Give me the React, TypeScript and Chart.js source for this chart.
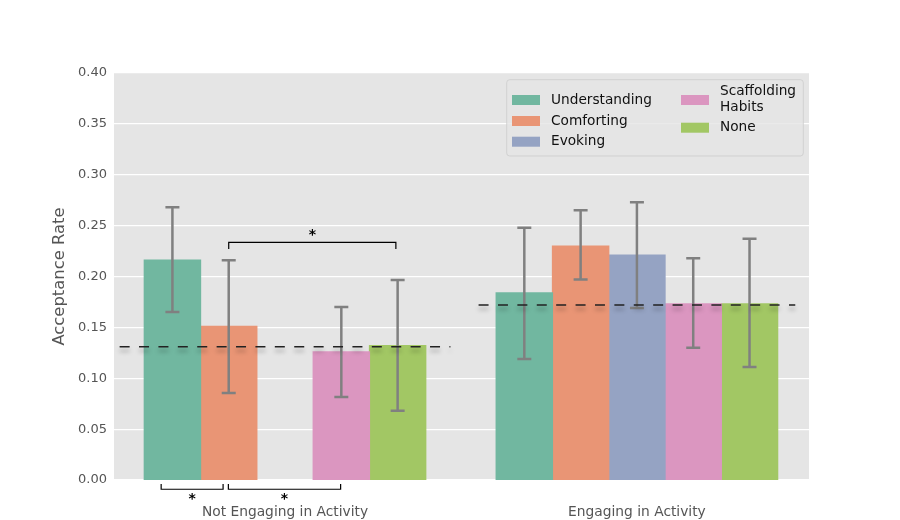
import { useEffect, useRef } from "react";
import { Chart, registerables } from "chart.js";

Chart.register(...registerables);

// groups on the x axis (positions 0 and 1)
const groups = ["Not Engaging in Activity", "Engaging in Activity"];
const groupPos = [0, 1];
const seriesNames = ["Understanding", "Comforting", "Evoking", "Scaffolding Habits", "None"];
const seriesColors = ["#71b7a0", "#e99575", "#95a3c3", "#db96c0", "#a2c764"];

// acceptance rate per group
const understanding = [0.216, 0.184];
const comforting = [0.151, 0.23];
const evoking = [null, 0.221];
const scaffolding = [0.126, 0.173];
const none = [0.132, 0.173];

// error bars [low, high] per group
const understandingErr = [[0.165, 0.268], [0.119, 0.248]];
const comfortingErr = [[0.0855, 0.216], [0.197, 0.265]];
const evokingErr = [null, [0.169, 0.273]];
const scaffoldingErr = [[0.0816, 0.17], [0.13, 0.218]];
const noneErr = [[0.068, 0.1966], [0.111, 0.237]];

// dashed mean line per group
const groupMeans = [0.131, 0.172];

const yTicks = [0, 0.05, 0.1, 0.15, 0.2, 0.25, 0.3, 0.35, 0.4];

// significance brackets: x in axis units, y in rate units
const sigBrackets = [
  { x1: -0.16, x2: 0.315, y: 0.2336, tip: 0.227, star: 0.2424 },
  { x1: -0.352, x2: -0.176, y: -0.0091, tip: -0.0039, star: -0.0175 },
  { x1: -0.161, x2: 0.158, y: -0.0091, tip: -0.0039, star: -0.0175 },
];

const seriesValues = [understanding, comforting, evoking, scaffolding, none];
const seriesErrs = [understandingErr, comfortingErr, evokingErr, scaffoldingErr, noneErr];

const FONT = "'DejaVu Sans', sans-serif";
const TEXT = "#555555";

const backgroundPlugin = {
  id: "plotBackground",
  beforeDraw(chart: any) {
    const { ctx, chartArea: a } = chart;
    ctx.save();
    ctx.fillStyle = "#e5e5e5";
    ctx.fillRect(a.left, a.top, a.right - a.left, a.bottom - a.top);
    ctx.restore();
  },
};

const overlayPlugin = {
  id: "overlay",
  afterDatasetsDraw(chart: any) {
    const { ctx } = chart;
    const xs = chart.scales.x;
    const ys = chart.scales.y;

    // error bars
    ctx.save();
    ctx.strokeStyle = "#808080";
    ctx.lineWidth = 2.5;
    seriesErrs.forEach((errs, di) => {
      const meta = chart.getDatasetMeta(di);
      errs.forEach((e, i) => {
        if (!e) return;
        const x = meta.data[i].x;
        const y0 = ys.getPixelForValue(e[0]);
        const y1 = ys.getPixelForValue(e[1]);
        ctx.beginPath();
        ctx.moveTo(x, y0);
        ctx.lineTo(x, y1);
        ctx.moveTo(x - 7, y0);
        ctx.lineTo(x + 7, y0);
        ctx.moveTo(x - 7, y1);
        ctx.lineTo(x + 7, y1);
        ctx.stroke();
      });
    });
    ctx.restore();

    // dashed group means
    const spans = [0.47, 0.45];
    ctx.save();
    ctx.strokeStyle = "#222222";
    ctx.lineWidth = 1.6;
    ctx.setLineDash([10, 9.4]);
    ctx.shadowColor = "rgba(0,0,0,0.35)";
    ctx.shadowBlur = 4;
    ctx.shadowOffsetY = 4;
    groupMeans.forEach((m, i) => {
      const y = ys.getPixelForValue(m);
      ctx.beginPath();
      ctx.moveTo(xs.getPixelForValue(groupPos[i] - spans[i]), y);
      ctx.lineTo(xs.getPixelForValue(groupPos[i] + spans[i]), y);
      ctx.stroke();
    });
    ctx.restore();
  },
  afterDraw(chart: any) {
    const { ctx, chartArea: a } = chart;
    const xs = chart.scales.x;
    const ys = chart.scales.y;

    // significance brackets
    ctx.save();
    ctx.strokeStyle = "#000000";
    ctx.lineWidth = 1.2;
    ctx.fillStyle = "#000000";
    ctx.font = `bold 14px ${FONT}`;
    ctx.textAlign = "center";
    ctx.textBaseline = "alphabetic";
    sigBrackets.forEach((b) => {
      const x1 = xs.getPixelForValue(b.x1);
      const x2 = xs.getPixelForValue(b.x2);
      const y = ys.getPixelForValue(b.y);
      const t = ys.getPixelForValue(b.tip);
      ctx.beginPath();
      ctx.moveTo(x1, t);
      ctx.lineTo(x1, y);
      ctx.lineTo(x2, y);
      ctx.lineTo(x2, t);
      ctx.stroke();
      ctx.fillText("*", (x1 + x2) / 2, ys.getPixelForValue(b.star) + 5.5);
    });
    ctx.restore();

    // y axis title
    ctx.save();
    ctx.translate(60, (a.top + a.bottom) / 2);
    ctx.rotate(-Math.PI / 2);
    ctx.fillStyle = TEXT;
    ctx.font = `16.4px ${FONT}`;
    ctx.textAlign = "center";
    ctx.textBaseline = "middle";
    ctx.fillText("Acceptance Rate", 0, 0);
    ctx.restore();

    // legend
    const lx = a.right - 302.3;
    const ly = a.top + 6.7;
    ctx.save();
    ctx.fillStyle = "rgba(229,229,229,0.8)";
    ctx.strokeStyle = "rgba(204,204,204,0.8)";
    ctx.lineWidth = 1;
    ctx.beginPath();
    ctx.roundRect(lx, ly, 296.6, 76.3, 3);
    ctx.fill();
    ctx.stroke();
    ctx.font = `13.7px ${FONT}`;
    ctx.textAlign = "left";
    ctx.textBaseline = "middle";
    const items = [
      { c: 0, sx: 5.3, sy: 20.3, lines: [["Understanding", 20.3]] },
      { c: 1, sx: 5.3, sy: 41.3, lines: [["Comforting", 41.3]] },
      { c: 2, sx: 5.3, sy: 62, lines: [["Evoking", 62]] },
      { c: 3, sx: 174.3, sy: 20.3, lines: [["Scaffolding", 11.6], ["Habits", 27.6]] },
      { c: 4, sx: 174.3, sy: 48, lines: [["None", 48]] },
    ];
    items.forEach((it) => {
      ctx.fillStyle = seriesColors[it.c];
      ctx.fillRect(lx + it.sx, ly + it.sy - 5, 28, 10);
      ctx.fillStyle = "#111111";
      it.lines.forEach(([txt, yy]) => {
        ctx.fillText(txt as string, lx + it.sx + 39, ly + (yy as number));
      });
    });
    ctx.restore();
  },
};

export default function App() {
  const canvasRef = useRef<HTMLCanvasElement | null>(null);

  useEffect(() => {
    if (!canvasRef.current) return;
    const chart = new Chart(canvasRef.current, {
      type: "bar",
      data: {
        datasets: seriesNames.map((name, di) => ({
          label: name,
          data: groupPos.map((x, i) => ({ x, y: seriesValues[di][i] })),
          backgroundColor: seriesColors[di],
          borderWidth: 0,
          inflateAmount: 0.6,
          barPercentage: 1,
          categoryPercentage: 0.8,
        })),
      },
      options: {
        animation: false,
        responsive: true,
        maintainAspectRatio: false,
        layout: { padding: { top: 73, right: 91, left: 0, bottom: 0 } },
        plugins: {
          legend: { display: false },
          tooltip: { enabled: false },
        },
        scales: {
          x: {
            type: "linear",
            min: -0.486,
            max: 1.489,
            offset: false,
            grid: { display: false, offset: false },
            border: { display: false },
            afterBuildTicks: (scale: any) => {
              scale.ticks = groupPos.map((v) => ({ value: v }));
            },
            afterFit: (scale: any) => {
              scale.height = 40;
            },
            ticks: {
              color: TEXT,
              font: { family: FONT, size: 13.8 },
              padding: 16,
              maxRotation: 0,
              autoSkip: false,
              callback: (v: any) => groups[Number(v)] ?? "",
            },
          },
          y: {
            min: 0,
            max: 0.4,
            grid: { color: "#ffffff", lineWidth: 1.2, drawTicks: false },
            border: { display: false },
            afterBuildTicks: (scale: any) => {
              scale.ticks = yTicks.map((v) => ({ value: v }));
            },
            afterFit: (scale: any) => {
              scale.width = 114;
            },
            ticks: {
              color: TEXT,
              font: { family: FONT, size: 13 },
              padding: 7,
              callback: (v: any) => Number(v).toFixed(2),
            },
          },
        },
      },
      plugins: [backgroundPlugin, overlayPlugin],
    });
    return () => chart.destroy();
  }, []);

  return (
    <div style={{ position: "absolute", left: 0, top: 0, width: 900, height: 520, background: "#ffffff" }}>
      <canvas ref={canvasRef} />
    </div>
  );
}
